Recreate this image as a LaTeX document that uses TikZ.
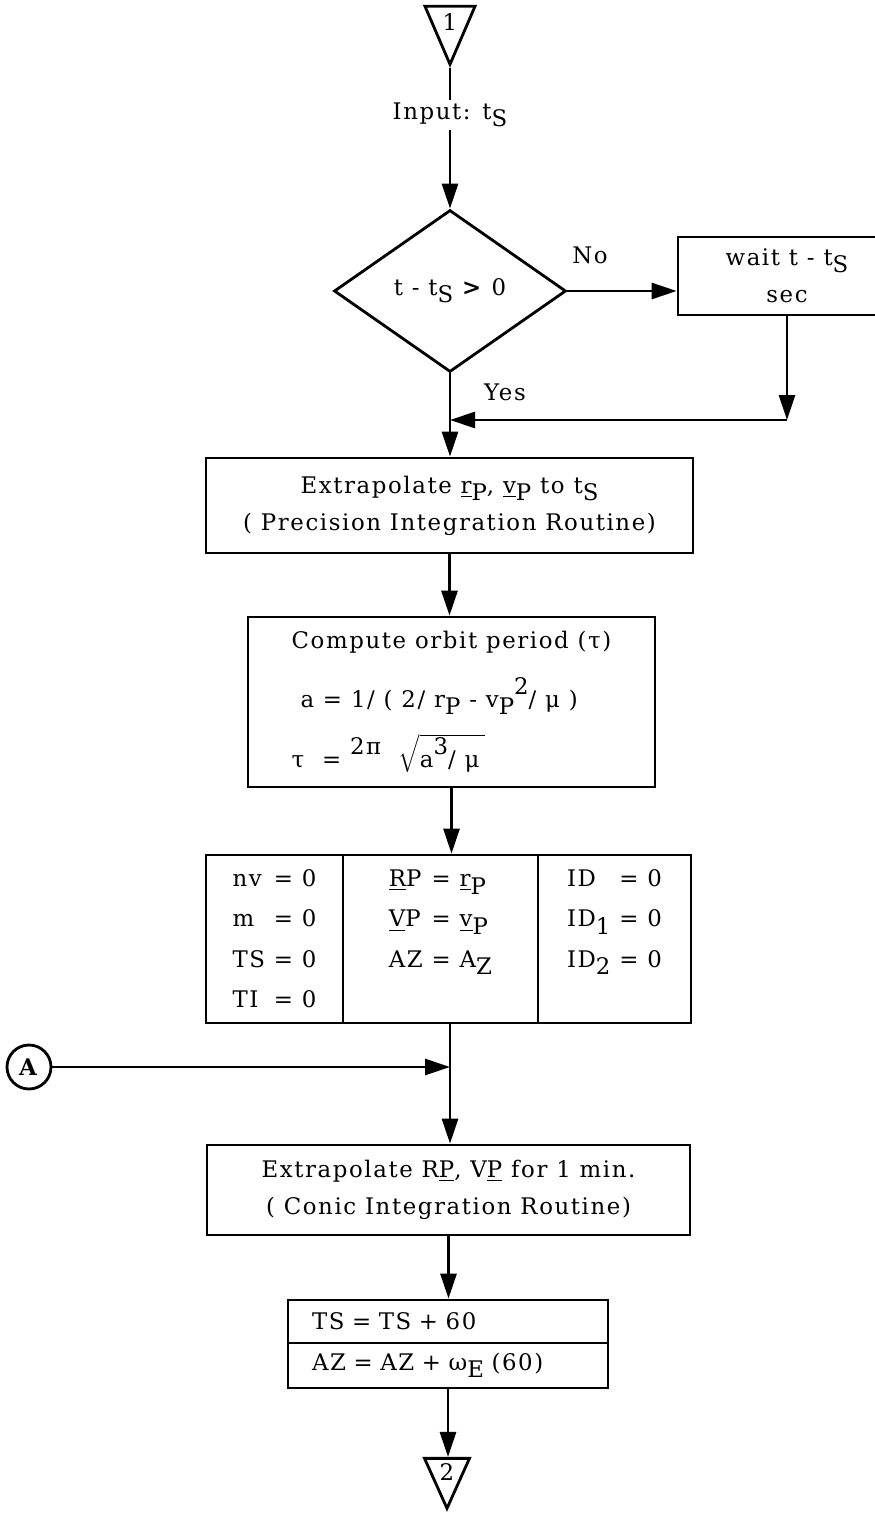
\documentclass[tikz,border=0pt]{standalone}
\usepackage{fontspec}
\setmainfont[LetterSpace=7]{DejaVu Serif}
\usepackage{amsmath}
\usetikzlibrary{positioning}
\usetikzlibrary{shapes.geometric}
\usetikzlibrary{arrows.meta}

\newcommand{\lowr}[1]{\raisebox{-0.6ex}{#1}}
\newcommand{\highr}[1]{\raisebox{1.1ex}{#1}}

\begin{document}
\begin{tikzpicture}[
      x=0.02cm, y=-0.02cm,
      >={Triangle[length=0.5cm,width=0.32cm]},
      line width=1.6pt,
      font=\fontsize{13}{21}\selectfont,
      box/.style={draw,rectangle,inner sep=0pt,align=center},
      cell/.style={draw,rectangle,inner sep=0pt,minimum height=3.36cm,
                   font=\fontsize{13}{22.8}\selectfont},
      conn/.style={draw,isosceles triangle,shape border rotate=270,
                   isosceles triangle stretches,inner sep=0pt},
      flow/.style={->},
      tag/.style={draw=none,inner sep=1pt}
    ]
    \useasboundingbox (0,0) rectangle (875,1514);

    % Entry connector and start test
    \node[conn, minimum width=1cm, minimum height=1.16cm, anchor=apex]
          (in1) at (450,68) {1};
    \node[tag] (input) at (450,115) {Input: t\lowr{S}};
    \node[draw, diamond, inner sep=0pt, minimum width=4.64cm,
          minimum height=3.24cm] (test) at (450,291)
          {t - t\lowr{S} \textbf{>} 0};
    \node[box, minimum width=4.36cm, minimum height=1.56cm]
          (wait) at (787,276) {wait t - t\lowr{S}\\sec};
    \coordinate (corner) at (787,420);
    \coordinate (join) at (450,420);

    % Processing boxes
    \node[box, minimum width=9.74cm, minimum height=1.9cm] (prec) at (449.5,505.5)
          {Extrapolate \underline{r}\lowr{P}, \underline{v}\lowr{P} to t\lowr{S}\\
           ( Precision Integration Routine)};
    \node[box, align=left, minimum width=8.14cm, minimum height=3.4cm]
          (period) at (451.5,702)
          {Compute orbit period (τ)\\[0.45cm]
           \ a = 1/ ( 2/ r\lowr{P} - v\lowr{P}\highr{2}/ μ )\\[0.35cm]
           τ \ = \highr{2π} \ $\sqrt{\mbox{a\highr{3}/ μ}\;}$};

    % Initial values
    \node[cell, minimum width=2.74cm] (initA) at (274.5,939)
          {\begin{tabular}{@{}l@{ = }l@{}}
           nv & 0\\ m & 0\\ TS & 0\\ TI & 0
           \end{tabular}};
    \node[cell, minimum width=3.9cm, right=-1.6pt of initA] (initB)
          {\begin{tabular}{@{}l@{ = }l@{}}
           \underline{R}P & \underline{r}\lowr{P}\\
           \underline{V}P & \underline{v}\lowr{P}\\
           AZ & A\lowr{Z}\\[22.8pt]
           \end{tabular}};
    \node[cell, minimum width=3.06cm, right=-1.6pt of initB] (initC)
          {\begin{tabular}{@{}l@{ = }l@{}}
           ID & 0\\ ID\lowr{1} & 0\\ ID\lowr{2} & 0\\[22.8pt]
           \end{tabular}};

    % Loop entry and conic step
    \node[draw, circle, inner sep=0pt, minimum size=0.88cm] (entryA) at (29,1067)
          {\textbf{A}};
    \coordinate (merge) at (450,1067);
    \node[box, minimum width=9.66cm, minimum height=1.8cm] (conic) at (448.5,1190)
          {Extrapolate R\underline{P}, V\underline{P} for 1 min.\\
           ( Conic Integration Routine)};
    \node[box, text width=5.44cm, align=left, inner xsep=0.48cm,
          minimum height=0.86cm] (upTS) at (448,1321.5) {TS = TS + 60};
    \node[box, text width=5.44cm, align=left, inner xsep=0.48cm,
          minimum height=0.9cm, below=-1.6pt of upTS] (upAZ)
          {AZ = AZ + ω\lowr{E} (60)};
    \node[conn, minimum width=0.9cm, minimum height=1cm, anchor=apex]
          (out2) at (447,1512) {2};

    % Labels
    \node[tag] (no) at (590,255) {No};
    \node[tag] (yes) at (505,392) {Yes};

    % Draw connections
    \draw (in1.apex) -- (input);
    \draw[flow] (input) -- (test);
    \draw[flow] (test.east) -- (test.east -| wait.west);
    \draw[flow] (wait.south) -- (corner);
    \draw[flow] (corner) -- (join);
    \draw[flow] (test.south) -- (test.south |- prec.north);
    \draw[flow] (prec.south) -- (prec.south |- period.north);
    \draw[flow] (period.south) -- (period.south |- initB.north);
    \draw[flow] (entryA) -- (merge);
    \draw[flow] (merge |- initB.south) -- (merge |- conic.north);
    \draw[flow] (conic.south) -- (conic.south |- upTS.north);
    \draw[flow] (upAZ.south) -- (upAZ.south |- out2.north);

  \end{tikzpicture}
\end{document}
